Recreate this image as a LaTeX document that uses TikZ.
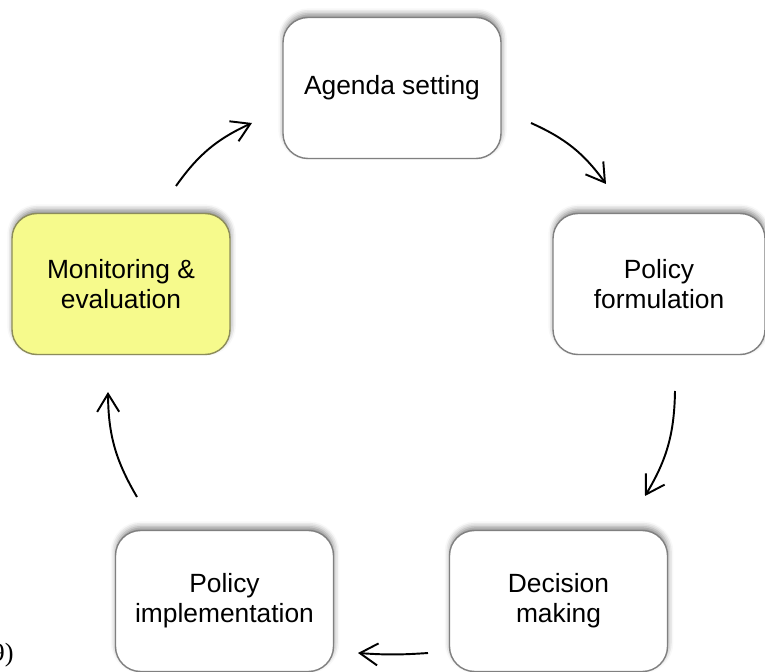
\documentclass[tikz,border=0pt]{standalone}
\usepackage{fontspec}
\setmainfont{Liberation Sans}
\newfontfamily\serifpart{Liberation Serif}
\usetikzlibrary{arrows.meta,shadows.blur}
\definecolor{boxline}{RGB}{128,128,128}
\definecolor{monfill}{RGB}{246,250,140}
\definecolor{monline}{RGB}{140,140,90}
\tikzset{
    stagebox/.style={draw=boxline, line width=0.8pt, fill=white, rounded corners=0.5cm,
        minimum width=4.36cm, minimum height=2.82cm, align=center,
        font=\fontsize{15}{17}\selectfont,
        blur shadow={shadow xshift=0.3pt, shadow yshift=2.2pt, shadow blur radius=3pt, shadow opacity=45}},
    cyclearrow/.style={-{Straight Barb[length=3.6mm,width=4.4mm,line width=1.1pt]}, line width=1.1pt, bend left=15}
}
\begin{document}
\begin{tikzpicture}
                \useasboundingbox (0, 0) rectangle (15.3, 13.42);

                \node (agenda) at (7.84, 11.66) [stagebox] {Agenda setting};
                \node (formul) at (13.18, 7.74) [stagebox, minimum width=4.24cm] {Policy\\formulation};
                \node (decide) at (11.17, 1.40) [stagebox] {Decision\\making};
                \node (implem) at (4.49, 1.40) [stagebox] {Policy\\implementation};
                \node (monitor) at (2.42, 7.74) [stagebox, fill=monfill, draw=monline] {Monitoring \&\\evaluation};

                \coordinate (a1) at (10.62, 10.96);
                \coordinate (b1) at (12.12, 9.74);
                \coordinate (a2) at (13.5, 5.6);
                \coordinate (b2) at (12.9, 3.5);
                \coordinate (a3) at (8.56, 0.36);
                \coordinate (b3) at (7.16, 0.36);
                \coordinate (a4) at (2.74, 3.48);
                \coordinate (b4) at (2.16, 5.58);
                \coordinate (a5) at (3.52, 9.70);
                \coordinate (b5) at (5.04, 10.96);

                \draw[cyclearrow] (a1) to (b1);
                \draw[cyclearrow] (a2) to (b2);
                \draw[cyclearrow, bend left=4] (a3) to (b3);
                \draw[cyclearrow] (a4) to (b4);
                \draw[cyclearrow] (a5) to (b5);

                \node (cite) at (0.28, 0.2) [anchor=base east, inner sep=0pt, font=\serifpart\fontsize{15}{17}\selectfont] {9)};
            \end{tikzpicture}
\end{document}
